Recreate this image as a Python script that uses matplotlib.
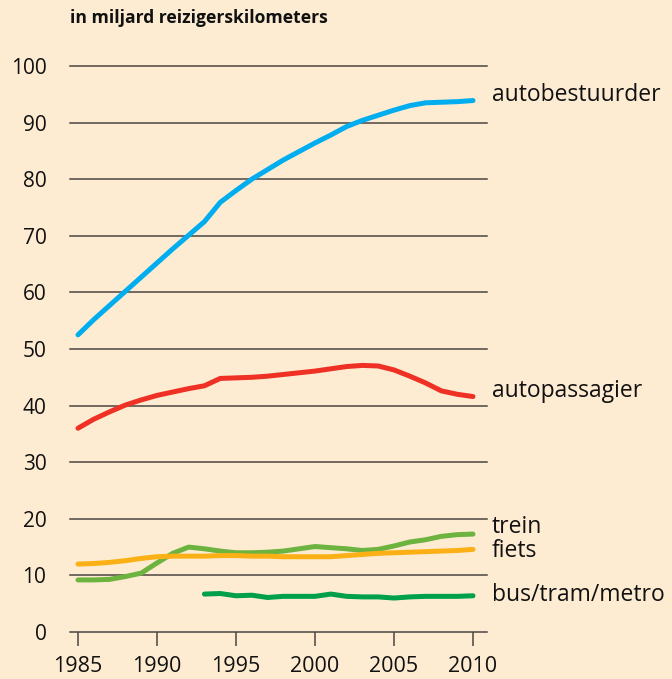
import numpy as np
import matplotlib.pyplot as plt

plt.rcParams['font.family'] = ['Open Sans', 'DejaVu Sans']

years = np.arange(1985, 2011)
years_bus = np.arange(1993, 2011)

autobestuurder = [52.5, 55.2, 57.7, 60.2, 62.7, 65.2, 67.7, 70.1, 72.5, 75.9,
                  78.0, 80.0, 81.7, 83.4, 84.9, 86.4, 87.8, 89.3, 90.4, 91.3,
                  92.2, 93.0, 93.5, 93.6, 93.7, 93.9]
autopassagier = [36.0, 37.6, 38.9, 40.1, 41.0, 41.8, 42.4, 43.0, 43.5, 44.8,
                 44.9, 45.0, 45.2, 45.5, 45.8, 46.1, 46.5, 46.9, 47.1, 47.0,
                 46.3, 45.2, 44.0, 42.6, 42.0, 41.6]
trein = [9.2, 9.2, 9.3, 9.8, 10.4, 12.2, 13.9, 15.0, 14.7, 14.3,
         14.0, 14.0, 14.1, 14.3, 14.7, 15.1, 14.9, 14.7, 14.4, 14.6,
         15.2, 15.9, 16.3, 16.9, 17.2, 17.3]
fiets = [12.0, 12.1, 12.3, 12.6, 13.0, 13.3, 13.4, 13.4, 13.4, 13.5,
         13.5, 13.4, 13.4, 13.3, 13.3, 13.3, 13.3, 13.5, 13.7, 13.9,
         14.0, 14.1, 14.2, 14.3, 14.4, 14.6]
bus = [6.7, 6.8, 6.4, 6.5, 6.1, 6.3, 6.3, 6.3, 6.7, 6.3,
       6.2, 6.2, 6.0, 6.2, 6.3, 6.3, 6.3, 6.4]

series = [
    (years, autobestuurder, '#00aeef', 'autobestuurder', 1.0),
    (years, autopassagier, '#ee3124', 'autopassagier', 1.0),
    (years, trein, '#6db33f', 'trein', 1.2),
    (years, fiets, '#fbb116', 'fiets', -0.3),
    (years_bus, bus, '#00a04a', 'bus/tram/metro', 0.2),
]

bg = '#feecd2'
fig = plt.figure(figsize=(6.72, 6.79), dpi=100, facecolor=bg)
ax = fig.add_axes([70 / 672, 1 - 632 / 679, 417 / 672, 566 / 679])
ax.set_facecolor(bg)

ax.set_xlim(1985 - 8 / 15.8, 2010 + 14 / 15.8)
ax.set_ylim(0, 100)

for v in range(0, 101, 10):
    ax.axhline(v, color='#4a4540', lw=1.1, zorder=1, clip_on=False)

for x, y, c, name, dy in series:
    ax.plot(x, y, color=c, lw=3.6, solid_capstyle='round',
            solid_joinstyle='round', zorder=3, clip_on=False)
    ax.text(2010 + 1.2, y[-1] + dy, name, fontsize=16.5, va='center',
            ha='left', color='#111111')

for s in ax.spines.values():
    s.set_visible(False)

ax.set_yticks(range(0, 101, 10))
ax.set_xticks(range(1985, 2011, 5))
ax.tick_params(axis='y', length=0, pad=17, labelsize=15, labelcolor='#111111')
ax.tick_params(axis='x', length=10, width=1.1, color='#4a4540', pad=7,
               labelsize=15.5, labelcolor='#111111')

fig.text(70 / 672, 1 - 18 / 679, 'in miljard reizigerskilometers',
         fontsize=12.6, fontweight='bold', va='center', ha='left',
         color='#111111')

fig.savefig('out.png', dpi=100, facecolor=bg)
